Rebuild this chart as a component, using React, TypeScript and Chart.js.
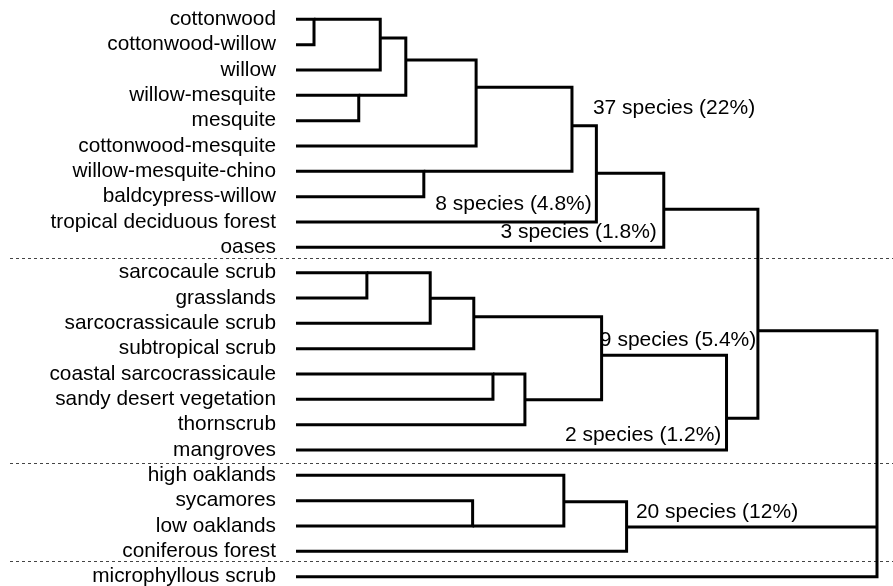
import React, { useEffect, useRef } from "react";
import { Chart, registerables } from "chart.js";

Chart.register(...registerables);

// Leaves (top to bottom)
const leaves = [
  "cottonwood",
  "cottonwood-willow",
  "willow",
  "willow-mesquite",
  "mesquite",
  "cottonwood-mesquite",
  "willow-mesquite-chino",
  "baldcypress-willow",
  "tropical deciduous forest",
  "oases",
  "sarcocaule scrub",
  "grasslands",
  "sarcocrassicaule scrub",
  "subtropical scrub",
  "coastal sarcocrassicaule",
  "sandy desert vegetation",
  "thornscrub",
  "mangroves",
  "high oaklands",
  "sycamores",
  "low oaklands",
  "coniferous forest",
  "microphyllous scrub",
];

// Merge nodes: children refer to leaves as "L<i>" and to nodes as "N<i>"
const nodeChildren = [
  ["L0", "L1"],          // N0
  ["N0", "L2"],          // N1
  ["L3", "L4"],          // N2
  ["N1", "N2"],          // N3
  ["N3", "L5"],          // N4
  ["L6", "L7"],          // N5
  ["N4", "N5"],          // N6
  ["N6", "L8"],          // N7
  ["N7", "L9"],          // N8
  ["L10", "L11"],        // N9
  ["N9", "L12"],         // N10
  ["N10", "L13"],        // N11
  ["L14", "L15"],        // N12
  ["N12", "L16"],        // N13
  ["N11", "N13"],        // N14
  ["N14", "L17"],        // N15
  ["N8", "N15"],         // N16
  ["L19", "L20"],        // N17
  ["L18", "N17"],        // N18
  ["N18", "L21"],        // N19
  ["N16", "N19", "L22"], // N20 root
];
// Merge level (dissimilarity, 0 = leaves, 100 = root)
const nodeHeights = [
  3.1, 14.5, 10.8, 18.9, 31.0, 22.0, 47.5, 51.7, 63.3,
  12.2, 23.1, 30.6, 33.9, 39.4, 52.6, 74.1, 79.5,
  30.4, 46.1, 56.9, 100,
];
// Row (in leaf units) where each node's link leaves towards its parent
const nodeLinkRows = [
  0, 0.74, 3, 1.61, 2.68, 6, 4.2, 6.08, 7.5,
  10, 11.01, 11.74, 14, 15.02, 13.26, 15.75, 12.29,
  20, 19.04, 20.04, 12.29,
];

// Cluster annotations
const noteTexts = [
  "37 species (22%)",
  "8 species (4.8%)",
  "3 species (1.8%)",
  "9 species (5.4%)",
  "2 species (1.2%)",
  "20 species (12%)",
];
const noteLevels = [51.1, 50.9, 62.1, 52.3, 73.2, 58.5];
const noteRows = [3.5, 7.29, 8.42, 12.65, 16.43, 19.47];
const noteAligns = ["left", "right", "right", "left", "right", "left"];

// Group separators (rows between groups)
const separatorRows = [9.41, 17.52, 21.4];

function childPos(id: string) {
  const idx = parseInt(id.slice(1), 10);
  if (id[0] === "L") return { h: 0, y: idx };
  return { h: nodeHeights[idx], y: nodeLinkRows[idx] };
}

function buildDatasets() {
  const sets: any[] = [];
  const base = {
    type: "line",
    borderColor: "#000",
    borderWidth: 3,
    pointRadius: 0,
    fill: false,
    tension: 0,
    clip: false,
    borderJoinStyle: "miter",
    borderCapStyle: "butt",
  };
  nodeChildren.forEach((kids, i) => {
    const H = nodeHeights[i];
    const ps = kids.map(childPos).sort((a, b) => a.y - b.y);
    const first = ps[0];
    const last = ps[ps.length - 1];
    sets.push({
      ...base,
      data: [
        { x: first.h, y: first.y },
        { x: H, y: first.y },
        { x: H, y: last.y },
        { x: last.h, y: last.y },
      ],
    });
    for (let k = 1; k < ps.length - 1; k++) {
      sets.push({
        ...base,
        data: [
          { x: ps[k].h, y: ps[k].y },
          { x: H, y: ps[k].y },
        ],
      });
    }
  });
  return sets;
}

const FONT = "'Liberation Sans', Arial, Helvetica, sans-serif";

const overlayPlugin = {
  id: "overlay",
  beforeDatasetsDraw(chart: any) {
    const { ctx, scales } = chart;
    const ys = scales.y;
    ctx.save();
    ctx.strokeStyle = "#444";
    ctx.lineWidth = 1;
    ctx.setLineDash([3, 3]);
    separatorRows.forEach((r) => {
      const py = Math.round(ys.getPixelForValue(r)) + 0.5;
      ctx.beginPath();
      ctx.moveTo(10, py);
      ctx.lineTo(chart.width, py);
      ctx.stroke();
    });
    ctx.restore();
  },
  afterDatasetsDraw(chart: any) {
    const { ctx, scales } = chart;
    ctx.save();
    ctx.fillStyle = "#000";
    ctx.font = `21px ${FONT}`;
    ctx.textBaseline = "middle";
    noteTexts.forEach((t, i) => {
      ctx.textAlign = noteAligns[i];
      ctx.fillText(
        t,
        scales.x.getPixelForValue(noteLevels[i]),
        scales.y.getPixelForValue(noteRows[i])
      );
    });
    ctx.restore();
  },
};

export default function App() {
  const ref = useRef<HTMLCanvasElement | null>(null);
  useEffect(() => {
    if (!ref.current) return;
    const chart = new Chart(ref.current, {
      type: "line",
      data: { datasets: buildDatasets() },
      options: {
        animation: false,
        responsive: false,
        maintainAspectRatio: false,
        layout: { padding: { top: 2, bottom: 2, left: 0, right: 16 } },
        plugins: { legend: { display: false }, tooltip: { enabled: false } },
        scales: {
          x: {
            type: "linear",
            min: 0,
            max: 100,
            display: false,
          },
          y: {
            type: "linear",
            reverse: true,
            min: -0.683,
            max: 22.29,
            border: { display: false },
            grid: { display: false, drawTicks: false },
            afterBuildTicks: (scale: any) => {
              scale.ticks = leaves.map((_, i) => ({ value: i }));
            },
            afterFit: (scale: any) => {
              scale.width = 296;
              scale.paddingTop = 0;
              scale.paddingBottom = 0;
            },
            ticks: {
              autoSkip: false,
              padding: 20,
              color: "#000",
              font: { family: FONT, size: 20.8 },
              callback: (v: any) => leaves[v] ?? "",
            },
          },
        },
      },
      plugins: [overlayPlugin],
    } as any);
    return () => chart.destroy();
  }, []);
  return (
    <div style={{ position: "absolute", left: 0, top: 0, width: 893, height: 586, background: "#fff" }}>
      <canvas ref={ref} width={893} height={586} style={{ display: "block" }} />
    </div>
  );
}
